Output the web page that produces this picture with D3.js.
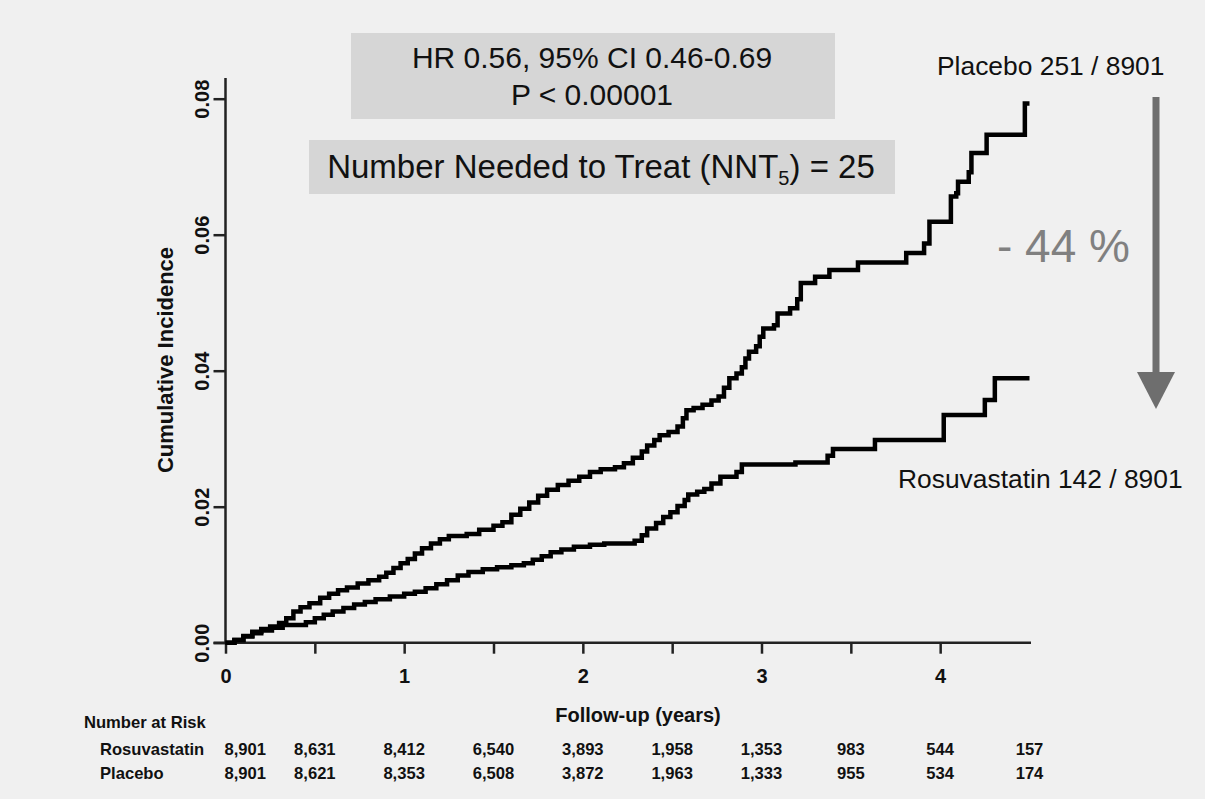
<!DOCTYPE html>
<html>
<head>
<meta charset="utf-8">
<script src="https://cdn.jsdelivr.net/npm/d3@7"></script>
<style>
  html, body { margin: 0; padding: 0; background: #f0f0f0; }
  svg { display: block; font-family: "Liberation Sans", Arial, sans-serif; }
</style>
</head>
<body>
<script>
// data =====================================================================
// cumulative incidence, [years, incidence]
var placeboSteps = [
  [0, 0], [0.05, 0.0004], [0.10, 0.0010], [0.15, 0.0016], [0.20, 0.0020], [0.25, 0.0024],
  [0.30, 0.0029], [0.34, 0.0036], [0.38, 0.0046], [0.42, 0.0052], [0.47, 0.0058], [0.53, 0.0066],
  [0.58, 0.0072], [0.63, 0.0077], [0.68, 0.0081], [0.74, 0.0087], [0.80, 0.0092], [0.86, 0.0097],
  [0.90, 0.0103], [0.94, 0.0110], [0.98, 0.0117], [1.02, 0.0123], [1.06, 0.0131], [1.10, 0.0139],
  [1.15, 0.0146], [1.20, 0.0152], [1.25, 0.0157], [1.35, 0.0160], [1.42, 0.0166], [1.50, 0.0172],
  [1.55, 0.0177], [1.60, 0.0188], [1.65, 0.0197], [1.70, 0.0206], [1.75, 0.0216], [1.80, 0.0225],
  [1.86, 0.0232], [1.92, 0.0238], [1.98, 0.0244], [2.04, 0.0251], [2.10, 0.0255], [2.18, 0.0258],
  [2.23, 0.0264], [2.28, 0.0272], [2.33, 0.0281], [2.36, 0.0290], [2.40, 0.0298], [2.43, 0.0305],
  [2.48, 0.0310], [2.53, 0.0318], [2.56, 0.0330], [2.58, 0.0342], [2.62, 0.0345], [2.67, 0.0350],
  [2.72, 0.0356], [2.76, 0.0362], [2.79, 0.0375], [2.82, 0.0389], [2.86, 0.0396], [2.89, 0.0405],
  [2.91, 0.0418], [2.93, 0.0428], [2.97, 0.0436], [2.99, 0.0450], [3.01, 0.0462], [3.07, 0.0467],
  [3.09, 0.0484], [3.16, 0.0492], [3.20, 0.0505], [3.22, 0.0529], [3.30, 0.0538], [3.38, 0.0548],
  [3.54, 0.0559], [3.81, 0.0573], [3.91, 0.0587], [3.94, 0.0619], [4.06, 0.0656], [4.09, 0.0661],
  [4.10, 0.0678], [4.16, 0.0692], [4.175, 0.0720], [4.26, 0.0747], [4.474, 0.0793], [4.50, 0.0793]
]

var rosuvaSteps = [
  [0, 0], [0.05, 0.0004], [0.10, 0.0009], [0.15, 0.0014], [0.20, 0.0018], [0.26, 0.0022],
  [0.32, 0.0026], [0.45, 0.0030], [0.50, 0.0036], [0.55, 0.0041], [0.60, 0.0046], [0.66, 0.0051],
  [0.72, 0.0056], [0.78, 0.0060], [0.84, 0.0064], [0.92, 0.0068], [1.00, 0.0072], [1.06, 0.0075],
  [1.12, 0.0080], [1.18, 0.0086], [1.24, 0.0092], [1.30, 0.0099], [1.36, 0.0104], [1.44, 0.0108],
  [1.52, 0.0111], [1.60, 0.0114], [1.67, 0.0117], [1.72, 0.0122], [1.77, 0.0127], [1.82, 0.0133],
  [1.88, 0.0137], [1.95, 0.0141], [2.04, 0.0144], [2.12, 0.0146], [2.29, 0.0150], [2.33, 0.0158],
  [2.36, 0.0168], [2.41, 0.0176], [2.45, 0.0185], [2.49, 0.0192], [2.53, 0.0201], [2.57, 0.0210],
  [2.59, 0.0218], [2.64, 0.0222], [2.68, 0.0226], [2.72, 0.0234], [2.77, 0.0244], [2.86, 0.0251],
  [2.89, 0.0262], [3.19, 0.0265], [3.37, 0.0275], [3.40, 0.0285], [3.635, 0.0298], [4.02, 0.0335],
  [4.25, 0.0357], [4.306, 0.0389], [4.50, 0.0389]
]

var yTicks = [0, 0.02, 0.04, 0.06, 0.08]
var xTicks = [0, 0.5, 1, 1.5, 2, 2.5, 3, 3.5, 4]
var xLabels = [0, 1, 2, 3, 4]

// number at risk table
var riskTimes   = [0, 0.5, 1, 1.5, 2, 2.5, 3, 3.5, 4, 4.5]
var riskRosuva  = ["8,901", "8,631", "8,412", "6,540", "3,893", "1,958", "1,353", "983", "544", "157"]
var riskPlacebo = ["8,901", "8,621", "8,353", "6,508", "3,872", "1,963", "1,333", "955", "534", "174"]

// sizes ====================================================================
var W = 1205, H = 799
var ink = "#111"

var svg = d3.select("body").append("svg")
  .attr("width", W)
  .attr("height", H)

svg.append("rect").attr("width", W).attr("height", H).attr("fill", "#f0f0f0")

var x = d3.scaleLinear().domain([0, 4.5]).range([225.5, 1029.5])
var y = d3.scaleLinear().domain([0, 0.08]).range([642.7, 98.7])

// top annotation boxes
svg.append("rect").attr("x", 351).attr("y", 33).attr("width", 484).attr("height", 86).attr("fill", "#d6d6d6")
svg.append("rect").attr("x", 309).attr("y", 140).attr("width", 586).attr("height", 54).attr("fill", "#d6d6d6")

svg.append("text")
  .attr("x", 592).attr("y", 68)
  .attr("text-anchor", "middle")
  .attr("font-size", "30px")
  .attr("fill", ink)
  .text("HR 0.56, 95% CI 0.46-0.69")

svg.append("text")
  .attr("x", 592).attr("y", 105)
  .attr("text-anchor", "middle")
  .attr("font-size", "30px")
  .attr("fill", ink)
  .text("P < 0.00001")

var nnt = svg.append("text")
  .attr("x", 601).attr("y", 178)
  .attr("text-anchor", "middle")
  .attr("font-size", "33px")
  .attr("fill", ink)
nnt.append("tspan").text("Number Needed to Treat (NNT")
nnt.append("tspan").attr("font-size", "20px").attr("dy", 7).text("5")
nnt.append("tspan").attr("dy", -7).text(") = 25")

// axes
var axes = svg.append("g")
  .attr("stroke", "#222")
  .attr("stroke-width", 2.5)

axes.append("line")
  .attr("x1", x(0)).attr("x2", x(0))
  .attr("y1", y(0)).attr("y2", 78)

axes.append("line")
  .attr("x1", x(0) - 12).attr("x2", 1031)
  .attr("y1", y(0)).attr("y2", y(0))

var yAxis = svg.append("g")
  .attr("transform", "translate(" + x(0) + ",0)")
  .call(d3.axisLeft(y).tickValues(yTicks).tickSize(12).tickSizeOuter(0).tickFormat(d3.format(".2f")))
yAxis.select(".domain").remove()
yAxis.selectAll(".tick line").attr("stroke", "#222").attr("stroke-width", 2.5)
yAxis.selectAll(".tick text")
  .attr("x", null).attr("dy", null)
  .attr("transform", "translate(-17,0) rotate(-90)")
  .attr("text-anchor", "middle")
  .attr("font-family", null)
  .attr("font-size", "20px")
  .attr("font-weight", "bold")
  .attr("fill", ink)

var xAxis = svg.append("g")
  .attr("transform", "translate(0," + y(0) + ")")
  .call(d3.axisBottom(x).tickValues(xTicks).tickSize(11).tickSizeOuter(0)
    .tickFormat(function(d) { return xLabels.indexOf(d) >= 0 ? d : "" }))
xAxis.select(".domain").remove()
xAxis.selectAll(".tick line").attr("stroke", "#222").attr("stroke-width", 2.5)
xAxis.selectAll(".tick text")
  .attr("y", 40).attr("dy", null)
  .attr("font-family", null)
  .attr("font-size", "20px")
  .attr("font-weight", "bold")
  .attr("fill", ink)

svg.append("text")
  .attr("transform", "translate(173,360) rotate(-90)")
  .attr("text-anchor", "middle")
  .attr("font-size", "22px")
  .attr("font-weight", "bold")
  .attr("fill", ink)
  .text("Cumulative Incidence")

svg.append("text")
  .attr("x", 638).attr("y", 722)
  .attr("text-anchor", "middle")
  .attr("font-size", "20px")
  .attr("font-weight", "bold")
  .attr("fill", ink)
  .text("Follow-up (years)")

// the two curves
var line = d3.line()
  .x(function(d) { return x(d[0]) })
  .y(function(d) { return y(d[1]) })
  .curve(d3.curveStepAfter)

svg.selectAll(".curve")
  .data([placeboSteps, rosuvaSteps])
  .enter().append("path")
  .attr("class", "curve")
  .attr("d", line)
  .attr("fill", "none")
  .attr("stroke", "#000")
  .attr("stroke-width", 4.5)
  .attr("stroke-linejoin", "miter")

// curve labels
svg.append("text")
  .attr("x", 937).attr("y", 75)
  .attr("font-size", "26.4px")
  .attr("fill", ink)
  .text("Placebo 251 / 8901")

svg.append("text")
  .attr("x", 898).attr("y", 488)
  .attr("font-size", "26.4px")
  .attr("fill", ink)
  .text("Rosuvastatin 142 / 8901")

// reduction arrow
svg.append("rect")
  .attr("x", 1152.5).attr("y", 97)
  .attr("width", 7).attr("height", 278)
  .attr("fill", "#6e6e6e")
svg.append("path")
  .attr("d", "M1137,372 L1175,372 L1156,409 Z")
  .attr("fill", "#6e6e6e")

svg.append("text")
  .attr("x", 997).attr("y", 262)
  .attr("font-size", "46px")
  .attr("fill", "#808080")
  .text("- 44 %")

// number at risk
var table = svg.append("g")
  .attr("font-size", "16.6px")
  .attr("font-weight", "bold")
  .attr("fill", ink)

table.append("text").attr("x", 84).attr("y", 728).text("Number at Risk")
table.append("text").attr("x", 100).attr("y", 755).text("Rosuvastatin")
table.append("text").attr("x", 100).attr("y", 779).text("Placebo")

// first column starts at the origin, the others are centred on their tick
function colX(d, i) { return i === 0 ? x(riskTimes[i]) - 1 : x(riskTimes[i]) }
function colAnchor(d, i) { return i === 0 ? "start" : "middle" }

table.selectAll(".rosuva")
  .data(riskRosuva)
  .enter().append("text")
  .attr("class", "rosuva")
  .attr("x", colX)
  .attr("y", 755)
  .attr("text-anchor", colAnchor)
  .text(function(d) { return d })

table.selectAll(".placebo")
  .data(riskPlacebo)
  .enter().append("text")
  .attr("class", "placebo")
  .attr("x", colX)
  .attr("y", 779)
  .attr("text-anchor", colAnchor)
  .text(function(d) { return d })
</script>
</body>
</html>
